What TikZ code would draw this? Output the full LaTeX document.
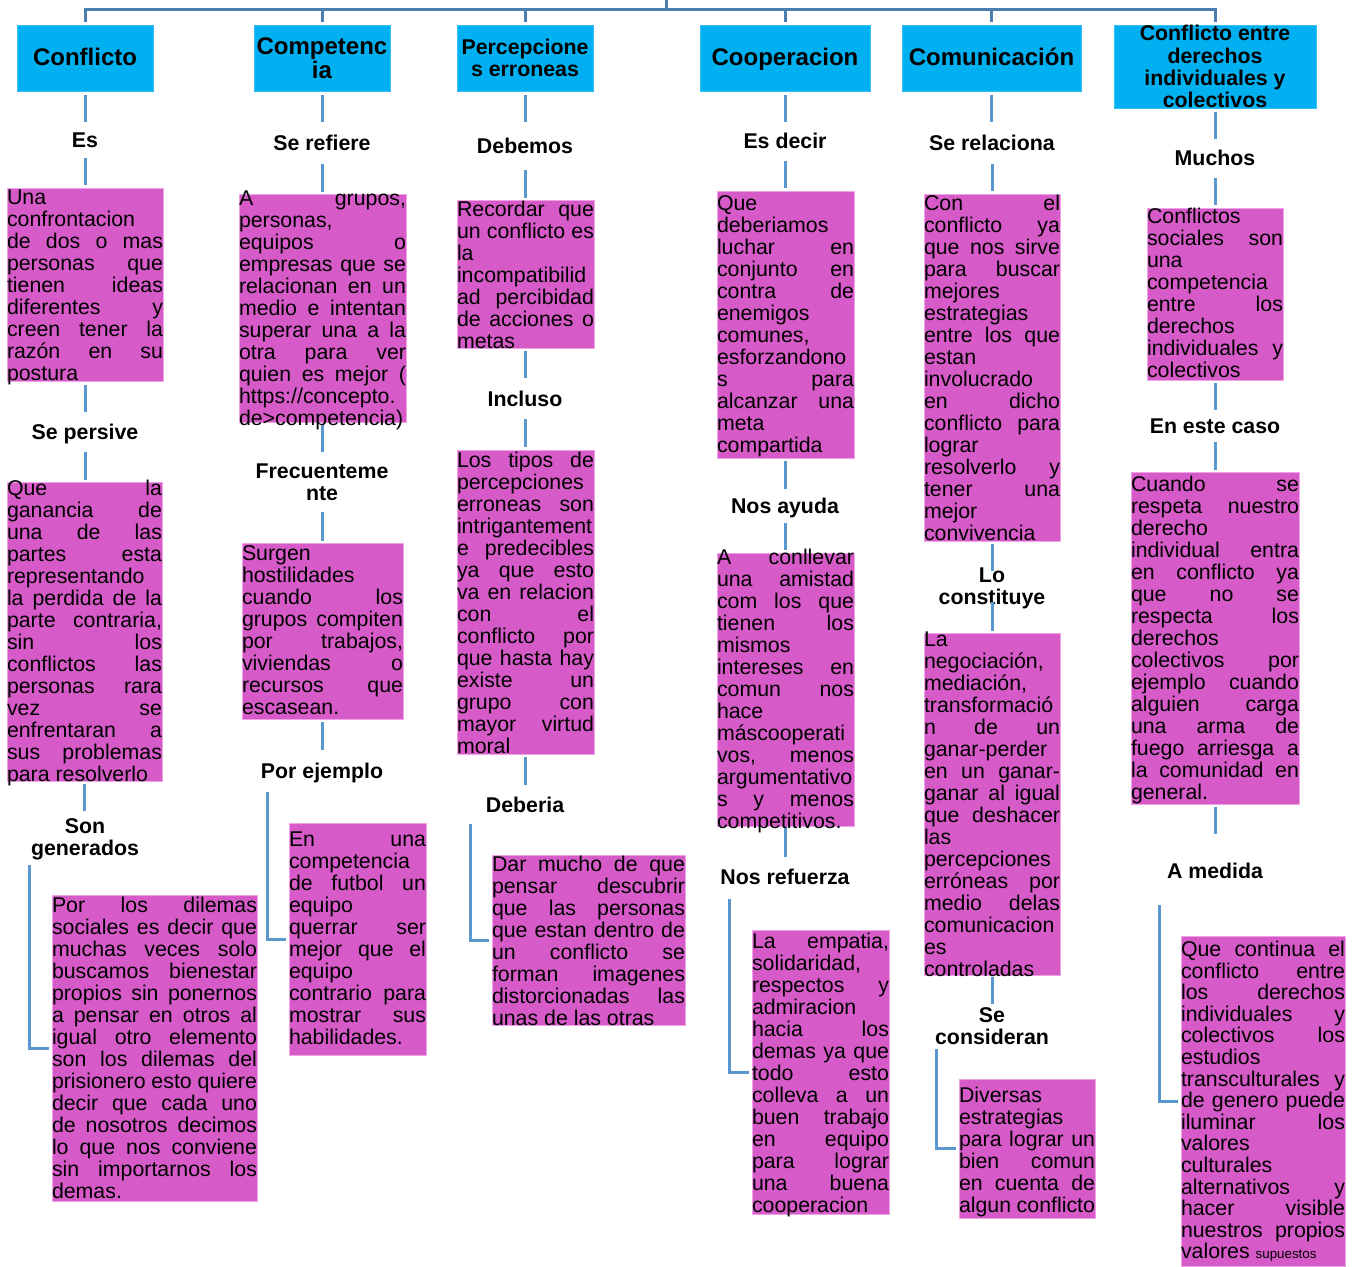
\documentclass[tikz,border=0pt]{standalone}
\usepackage{fontspec}
\setmainfont{Liberation Sans}
\usetikzlibrary{calc}
\definecolor{mag}{HTML}{D65BC8}
\definecolor{magedge}{HTML}{EFA3E6}
\definecolor{cyanbox}{HTML}{00B0F0}
\definecolor{conncol}{HTML}{5B97CF}
\definecolor{topcol}{HTML}{4A7EAF}
\hbadness=10000
\hfuzz=20pt
\frenchspacing
\newcommand\jl[1]{\hbox to\hsize{#1}}
\newcommand\lastl[1]{\hbox to\hsize{#1\hfil}}
\newcommand\tb[2]{\vbox{\hsize=#1\relax\lineskiplimit=-100pt\lineskip=0pt\relax#2}}
\newcommand\vseg[4]{\draw[conn, shorten <=#3, shorten >=#4] (#1.south) -- (#1.south |- #2.north);}
\tikzset{
  hdr/.style={fill=cyanbox, draw=cyanbox!80!white, line width=0.8pt, inner sep=0pt, outer sep=0pt,
    anchor=north west, align=center, font=\bfseries\fontsize{24pt}{23.5pt}\selectfont},
  hdrone/.style={hdr, text height=17.2pt, text depth=2.6pt},
  mbox/.style={fill=mag, draw=magedge, line width=0.8pt, inner sep=0pt, outer sep=0pt, anchor=north west},
  mtext/.style={inner sep=0pt, outer sep=0pt, anchor=north west, font=\fontsize{21.33pt}{22pt}\selectfont},
  lbl/.style={inner sep=0pt, outer sep=0pt, anchor=base, text height=15.5pt, text depth=4.5pt,
    font=\bfseries\fontsize{21.33pt}{22pt}\selectfont},
  lbltwo/.style={inner sep=0pt, outer sep=0pt, anchor=north, align=center,
    font=\bfseries\fontsize{21.33pt}{22pt}\selectfont},
  conn/.style={draw=conncol, line width=3pt},
  topline/.style={draw=topcol, line width=3pt},
}
\begin{document}
\begin{tikzpicture}[x=1pt, y=-1pt]
\fill[white] (0,0) rectangle (1362,1266);
\useasboundingbox (0,0) rectangle (1362,1266);

% ---------- headers ----------
\node[hdrone, minimum width=136pt, minimum height=66pt] (h1) at (17,25) {Conflicto};
\node[hdr, minimum width=136pt, minimum height=66pt] (h2) at (254,25) {Competenc\\ia};
\node[hdr, minimum width=136pt, minimum height=66pt, font=\bfseries\fontsize{21.33pt}{22.4pt}\selectfont] (h3) at (457,25) {Percepcione\\s erroneas};
\node[hdrone, minimum width=170pt, minimum height=66pt] (h4) at (700,25) {Cooperacion};
\node[hdrone, minimum width=179pt, minimum height=66pt] (h5) at (902,25) {Comunicación};
\node[hdr, minimum width=202pt, minimum height=83pt, font=\bfseries\fontsize{21.33pt}{22.2pt}\selectfont] (h6) at (1114,25) {Conflicto entre\\derechos\\individuales y\\colectivos};

% ---------- top tree ----------
\coordinate (root) at (666,0);
\coordinate (bar) at (666,9);
\draw[topline] (root) -- (bar);
\foreach \h in {h1,h2,h3,h4,h5,h6}{
  \draw[topline, shorten >=3pt] (bar) -| (\h.north);
}

% ---------- labels ----------
\node[lbl] (l11) at (85,147) {Es};
\node[lbl] (l12) at (85,439) {Se persive};
\node[lbltwo] (l13) at (85,819) {Son\\generados};
\node[lbl] (l21) at (322,150) {Se refiere};
\node[lbltwo] (l22) at (322,463.5) {Frecuenteme\\nte};
\node[lbl] (l23) at (322,778) {Por ejemplo};
\node[lbl] (l31) at (525,153) {Debemos};
\node[lbl] (l32) at (525,406) {Incluso};
\node[lbl] (l33) at (525,812) {Deberia};
\node[lbl] (l41) at (785,148) {Es decir};
\node[lbl] (l42) at (785,513) {Nos ayuda};
\node[lbl] (l43) at (785,884) {Nos refuerza};
\node[lbl] (l51) at (992,150) {Se relaciona};
\node[lbltwo] (l52) at (992,567.5) {Lo\\constituye};
\node[lbltwo] (l53) at (992,1007.5) {Se\\consideran};
\node[lbl] (l61) at (1215,165) {Muchos};
\node[lbl] (l62) at (1215,433) {En este caso};
\node[lbl] (l63) at (1215,878) {A medida};

% ---------- magenta boxes ----------
\node[mbox, minimum width=156pt, minimum height=193pt] (b11) at (7,188) {};
\node[mbox, minimum width=155pt, minimum height=299pt] (b12) at (7,482) {};
\node[mbox, minimum width=205pt, minimum height=306pt] (b13) at (52,895) {};
\node[mbox, minimum width=167pt, minimum height=227.5pt] (b21) at (239,194.5) {};
\node[mbox, minimum width=161pt, minimum height=176pt] (b22) at (242,543) {};
\node[mbox, minimum width=137pt, minimum height=232pt] (b23) at (289,823) {};
\node[mbox, minimum width=137pt, minimum height=148pt] (b31) at (457,200) {};
\node[mbox, minimum width=137pt, minimum height=304pt] (b32) at (457,450) {};
\node[mbox, minimum width=193pt, minimum height=170pt] (b33) at (492,855) {};
\node[mbox, minimum width=137pt, minimum height=267pt] (b41) at (717,191) {};
\node[mbox, minimum width=137pt, minimum height=273pt] (b42) at (717,553) {};
\node[mbox, minimum width=137pt, minimum height=284pt] (b43) at (752,930) {};
\node[mbox, minimum width=136pt, minimum height=347pt] (b51) at (924,194) {};
\node[mbox, minimum width=136pt, minimum height=341.5pt] (b52) at (924,633.5) {};
\node[mbox, minimum width=136pt, minimum height=139pt] (b53) at (959,1079) {};
\node[mbox, minimum width=136pt, minimum height=172pt] (b61) at (1147,208) {};
\node[mbox, minimum width=168pt, minimum height=332pt] (b62) at (1131,472) {};
\node[mbox, minimum width=164pt, minimum height=330pt] (b63) at (1181,936) {};

% ---------- box texts ----------
\node[mtext] (t11) at ([yshift=-1.5pt]b11.north west) {\tb{156pt}{%
\jl{Una}
\jl{confrontacion}
\jl{de dos o mas}
\jl{personas que}
\jl{tienen ideas}
\jl{diferentes y}
\jl{creen tener la}
\jl{razón en su}
\lastl{postura}}};

\node[mtext] (t12) at ([yshift=2pt]b12.north west) {\tb{155pt}{%
\jl{Que la}
\jl{ganancia de}
\jl{una de las}
\jl{partes esta}
\jl{representando}
\jl{la perdida de la}
\jl{parte contraria,}
\jl{sin los}
\jl{conflictos las}
\jl{personas rara}
\jl{vez se}
\jl{enfrentaran a}
\jl{sus problemas}
\lastl{para resolverlo}}};

\node[mtext] (t13) at ([yshift=-2pt]b13.north west) {\tb{205pt}{%
\jl{Por los dilemas}
\jl{sociales es decir que}
\jl{muchas veces solo}
\jl{buscamos bienestar}
\jl{propios sin ponernos}
\jl{a pensar en otros al}
\jl{igual otro elemento}
\jl{son los dilemas del}
\jl{prisionero esto quiere}
\jl{decir que cada uno}
\jl{de nosotros decimos}
\jl{lo que nos conviene}
\jl{sin importarnos los}
\lastl{demas.}}};

\node[mtext] (t21) at ([yshift=3.5pt]b21.north west) {\tb{167pt}{%
\jl{A grupos,}
\jl{personas,}
\jl{equipos o}
\jl{empresas que se}
\jl{relacionan en un}
\jl{medio e intentan}
\jl{superar una a la}
\jl{otra para ver}
\jl{quien es mejor (}
\jl{https://concepto.}
\lastl{de>competencia)}}};

\node[mtext] (t22) at ([yshift=-3pt]b22.north west) {\tb{161pt}{%
\jl{Surgen}
\jl{hostilidades}
\jl{cuando los}
\jl{grupos compiten}
\jl{por trabajos,}
\jl{viviendas o}
\jl{recursos que}
\lastl{escasean.}}};

\node[mtext] (t23) at ([yshift=-9pt]b23.north west) {\tb{137pt}{%
\jl{En una}
\jl{competencia}
\jl{de futbol un}
\jl{equipo}
\jl{querrar ser}
\jl{mejor que el}
\jl{equipo}
\jl{contrario para}
\jl{mostrar sus}
\lastl{habilidades.}}};

\node[mtext] (t31) at ([yshift=-0.7pt]b31.north west) {\tb{137pt}{%
\jl{Recordar que}
\jl{un conflicto es}
\jl{la}
\jl{incompatibilid}
\jl{ad percibidad}
\jl{de acciones o}
\lastl{metas}}};

\node[mtext] (t32) at ([yshift=-1.7pt]b32.north west) {\tb{137pt}{%
\jl{Los tipos de}
\jl{percepciones}
\jl{erroneas son}
\jl{intrigantement}
\jl{e predecibles}
\jl{ya que esto}
\jl{va en relacion}
\jl{con el}
\jl{conflicto por}
\jl{que hasta hay}
\jl{existe un}
\jl{grupo con}
\jl{mayor virtud}
\lastl{moral}}};

\node[mtext] (t33) at ([yshift=-1pt]b33.north west) {\tb{193pt}{%
\jl{Dar mucho de que}
\jl{pensar descubrir}
\jl{que las personas}
\jl{que estan dentro de}
\jl{un conflicto se}
\jl{forman imagenes}
\jl{distorcionadas las}
\lastl{unas de las otras}}};

\node[mtext] (t41) at ([yshift=-5pt]b41.north west) {\tb{137pt}{%
\jl{Que}
\jl{deberiamos}
\jl{luchar en}
\jl{conjunto en}
\jl{contra de}
\jl{enemigos}
\jl{comunes,}
\jl{esforzandono}
\jl{s para}
\jl{alcanzar una}
\jl{meta}
\lastl{compartida}}};

\node[mtext] (t42) at ([yshift=3.7pt]b42.north west) {\tb{137pt}{%
\jl{A conllevar}
\jl{una amistad}
\jl{com los que}
\jl{tienen los}
\jl{mismos}
\jl{intereses en}
\jl{comun nos}
\jl{hace}
\jl{máscooperati}
\jl{vos, menos}
\jl{argumentativo}
\jl{s y menos}
\lastl{competitivos.}}};

\node[mtext] (t43) at ([yshift=-2.7pt]b43.north west) {\tb{137pt}{%
\jl{La empatia,}
\jl{solidaridad,}
\jl{respectos y}
\jl{admiracion}
\jl{hacia los}
\jl{demas ya que}
\jl{todo esto}
\jl{colleva a un}
\jl{buen trabajo}
\jl{en equipo}
\jl{para lograr}
\jl{una buena}
\lastl{cooperacion}}};

\node[mtext] (t51) at ([yshift=-1pt]b51.north west) {\tb{136pt}{%
\jl{Con el}
\jl{conflicto ya}
\jl{que nos sirve}
\jl{para buscar}
\jl{mejores}
\jl{estrategias}
\jl{entre los que}
\jl{estan}
\jl{involucrado}
\jl{en dicho}
\jl{conflicto para}
\jl{lograr}
\jl{resolverlo y}
\jl{tener una}
\jl{mejor}
\lastl{convivencia}}};

\node[mtext] (t52) at ([yshift=1.8pt]b52.north west) {\tb{136pt}{%
\jl{La}
\jl{negociación,}
\jl{mediación,}
\jl{transformació}
\jl{n de un}
\jl{ganar-perder}
\jl{en un ganar-}
\jl{ganar al igual}
\jl{que deshacer}
\jl{las}
\jl{percepciones}
\jl{erróneas por}
\jl{medio delas}
\jl{comunicacion}
\jl{es}
\lastl{controladas}}};

\node[mtext] (t53) at ([yshift=-7.7pt]b53.north west) {\tb{136pt}{%
\jl{Diversas}
\jl{estrategias}
\jl{para lograr un}
\jl{bien comun}
\jl{en cuenta de}
\lastl{algun conflicto}}};

\node[mtext] (t61) at ([yshift=0pt]b61.north west) {\tb{136pt}{%
\jl{Conflictos}
\jl{sociales son}
\jl{una}
\jl{competencia}
\jl{entre los}
\jl{derechos}
\jl{individuales y}
\lastl{colectivos}}};

\node[mtext] (t62) at ([yshift=-4pt]b62.north west) {\tb{168pt}{%
\jl{Cuando se}
\jl{respeta nuestro}
\jl{derecho}
\jl{individual entra}
\jl{en conflicto ya}
\jl{que no se}
\jl{respecta los}
\jl{derechos}
\jl{colectivos por}
\jl{ejemplo cuando}
\jl{alguien carga}
\jl{una arma de}
\jl{fuego arriesga a}
\jl{la comunidad en}
\lastl{general.}}};

\node[mtext] (t63) at ([yshift=-5pt]b63.north west) {\tb{164pt}{\baselineskip=21.6pt
\jl{Que continua el}
\jl{conflicto entre}
\jl{los derechos}
\jl{individuales y}
\jl{colectivos los}
\jl{estudios}
\jl{transculturales y}
\jl{de genero puede}
\jl{iluminar los}
\jl{valores}
\jl{culturales}
\jl{alternativos y}
\jl{hacer visible}
\jl{nuestros propios}
\lastl{valores {\fontsize{13.33pt}{14pt}\selectfont supuestos}}}};

% ---------- connectors ----------
\vseg{h1}{l11}{4pt}{9.5pt}
\vseg{l11}{b11}{6.5pt}{3pt}
\vseg{b11}{l12}{4pt}{11.5pt}
\vseg{l12}{b12}{8.5pt}{2pt}
\vseg{b12}{l13}{3pt}{8pt}
\coordinate (e1) at (29,865);
\draw[conn, shorten >=3pt] (e1) |- (b13.west);

\vseg{h2}{l21}{4pt}{12.5pt}
\vseg{l21}{b21}{9.5pt}{2.5pt}
\vseg{b21}{l22}{3pt}{11.5pt}
\vseg{l22}{b22}{12pt}{2pt}
\vseg{b22}{l23}{3pt}{12.5pt}
\coordinate (e2) at (267,792);
\draw[conn, shorten >=3pt] (e2) |- (b23.west);

\vseg{h3}{l31}{4pt}{15.5pt}
\vseg{l31}{b31}{12.5pt}{2pt}
\vseg{b31}{l32}{3pt}{12.5pt}
\vseg{l32}{b32}{8.5pt}{3pt}
\vseg{b32}{l33}{3pt}{11.5pt}
\coordinate (e3) at (470,824);
\draw[conn, shorten >=3pt] (e3) |- (b33.west);

\vseg{h4}{l41}{4pt}{10.5pt}
\vseg{l41}{b41}{8.5pt}{3pt}
\vseg{b41}{l42}{3pt}{8.5pt}
\vseg{l42}{b42}{5.5pt}{3pt}
\vseg{b42}{l43}{2pt}{11.5pt}
\coordinate (e4) at (729,899);
\draw[conn, shorten >=3pt] (e4) |- (b43.west);

\vseg{h5}{l51}{4pt}{12.5pt}
\vseg{l51}{b51}{9.5pt}{3pt}
\vseg{b51}{l52}{3pt}{-3.5pt}
\vseg{l52}{b52}{-6.5pt}{2.5pt}
\vseg{b52}{l53}{2pt}{3.5pt}
\coordinate (e5) at (936,1049);
\draw[conn, shorten >=3pt] (e5) |- (b53.west);

\vseg{h6}{l61}{4pt}{10.5pt}
\vseg{l61}{b61}{8.5pt}{3pt}
\vseg{b61}{l62}{3pt}{7.5pt}
\vseg{l62}{b62}{4.5pt}{2pt}
\vseg{b62}{l63}{3pt}{28.5pt}
\coordinate (e6) at (1159,905);
\draw[conn, shorten >=3pt] (e6) |- (b63.west);
\end{tikzpicture}
\end{document}
